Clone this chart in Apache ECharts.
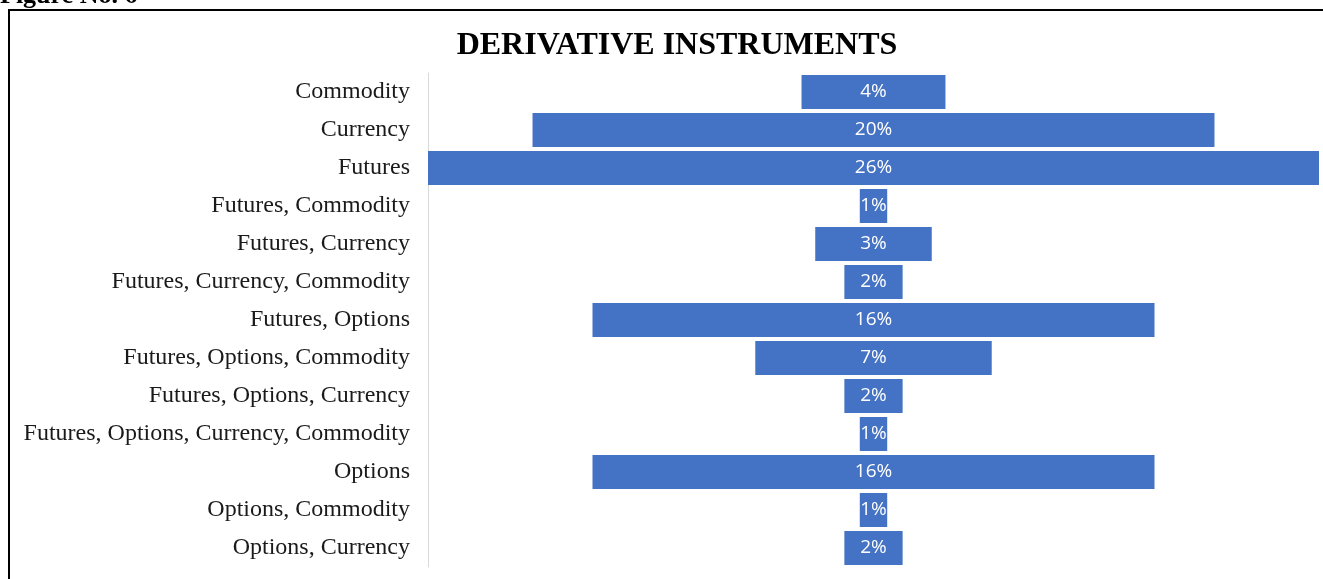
<!DOCTYPE html>
<html><head><meta charset="utf-8">
<script src="https://cdn.jsdelivr.net/npm/echarts@6/dist/echarts.min.js"></script>
<style>html,body{margin:0;padding:0;background:#fff}#c{width:1323px;height:579px}</style>
</head><body><div id="c"></div>
<script>
const categories = ["Commodity","Currency","Futures","Futures, Commodity","Futures, Currency","Futures, Currency, Commodity","Futures, Options","Futures, Options, Commodity","Futures, Options, Currency","Futures, Options, Currency, Commodity","Options","Options, Commodity","Options, Currency"];
const shares = [4.2,19.9,26.0,0.8,3.4,1.7,16.4,6.9,1.7,0.8,16.4,0.8,1.7];
const maxShare = Math.max(...shares);
const offsets = shares.map(v => (maxShare - v) / 2);

const chart = echarts.init(document.getElementById('c'));
chart.setOption({
  animation:false,
  title:{text:'DERIVATIVE INSTRUMENTS', left:672, top:25, textAlign:'center',
    textStyle:{fontFamily:'Liberation Serif', fontWeight:'bold', fontSize:32, color:'#000'}},
  graphic:[
    {type:'rect', shape:{x:9, y:10, width:1400, height:700}, style:{fill:'none', stroke:'#000', lineWidth:2}},
    {type:'text', x:0, y:9, style:{text:'Figure No. 6', font:'bold 26px "Liberation Serif"', fill:'#000', verticalAlign:'bottom'}}
  ],
  grid:{left:428, right:4, top:73, bottom:12},
  xAxis:{type:'value', min:0, max:maxShare, show:false},
  yAxis:{type:'category', data:categories, inverse:true,
    axisLine:{show:true, lineStyle:{color:'#d9d9d9', width:1}},
    axisTick:{show:false},
    axisLabel:{fontFamily:'Liberation Serif', fontSize:24, color:'#1a1a1a', margin:18, padding:[4,0,0,0]}},
  series:[
    {type:'bar', stack:'s', data:offsets, itemStyle:{color:'transparent'}, barCategoryGap:'10%', silent:true},
    {type:'bar', stack:'s', data:shares, barCategoryGap:'10%',
      itemStyle:{color:'#4472C4'},
      label:{show:true, position:'inside', color:'#fff', fontFamily:'Open Sans', fontSize:19,
        formatter:p => Math.round(p.value) + '%'}}
  ]
});
</script></body></html>
